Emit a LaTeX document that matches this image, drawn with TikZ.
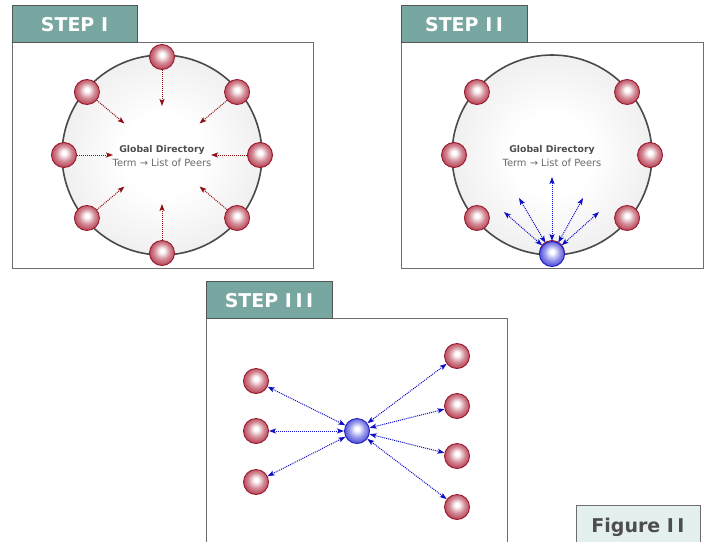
\documentclass[tikz,border=0pt]{standalone}
\usepackage{fontspec}
\setmainfont{DejaVu Sans}
\usetikzlibrary{arrows.meta,calc}

\definecolor{tabfill}{HTML}{78A6A1}
\definecolor{tabline}{HTML}{555555}
\definecolor{frameline}{HTML}{6E6E6E}
\definecolor{ringline}{HTML}{4A4A4A}
\definecolor{dirgray}{HTML}{D6D6D6}
\definecolor{peerrim}{HTML}{961A2C}
\definecolor{peermid}{HTML}{D28894}
\definecolor{peerout}{HTML}{B02A40}
\definecolor{hubrim}{HTML}{2222B8}
\definecolor{hubmid}{HTML}{9494EC}
\definecolor{hubout}{HTML}{3434D0}
\definecolor{pullred}{HTML}{8E0E14}
\definecolor{linkblue}{HTML}{0E0EC8}
\definecolor{titlegray}{HTML}{4D4D4D}
\definecolor{subgray}{HTML}{6A6A6A}
\definecolor{figfill}{HTML}{E3F0EF}

\pgfdeclareradialshading{peerball}{\pgfpoint{0bp}{5bp}}{%
  color(0bp)=(white); color(4bp)=(white); color(16bp)=(peermid);
  color(30bp)=(peerout); color(42bp)=(peerrim)}
\pgfdeclareradialshading{hubball}{\pgfpoint{0bp}{5bp}}{%
  color(0bp)=(white); color(4bp)=(white); color(16bp)=(hubmid);
  color(30bp)=(hubout); color(42bp)=(hubrim)}
\pgfdeclareradialshading{dirshade}{\pgfpoint{0bp}{0bp}}{%
  color(0bp)=(white); color(10bp)=(white); color(50bp)=(dirgray)}

\tikzset{
  tabbox/.style={draw=tabline, fill=tabfill, line width=0.9pt},
  framebox/.style={draw=frameline, line width=0.9pt},
  tabtext/.style={text=white, font=\fontsize{19}{22}\bfseries\selectfont, inner sep=0pt},
  directory/.style={circle, minimum size=200pt, inner sep=0pt, shading=dirshade,
    draw=ringline, line width=1.6pt},
  peer/.style={circle, minimum size=25pt, inner sep=0pt, shading=peerball,
    draw=peerrim, line width=0.9pt},
  hub/.style={circle, minimum size=25pt, inner sep=0pt, shading=hubball,
    draw=hubrim, line width=0.9pt},
  pull/.style={draw=pullred, line width=1pt, dash pattern=on 1pt off 1pt,
    -{Stealth[length=7pt,width=5pt,inset=1.5pt]}},
  link/.style={draw=linkblue, line width=1pt, dash pattern=on 1pt off 1pt,
    {Stealth[length=7pt,width=5pt,inset=1.5pt]}-{Stealth[length=7pt,width=5pt,inset=1.5pt]}},
  dirtitle/.style={text=titlegray, font=\fontsize{9.3}{11}\bfseries\selectfont, inner sep=0pt},
  dirsub/.style={text=subgray, font=\fontsize{9.9}{11}\selectfont, inner sep=0pt},
}

\newcommand{\gapI}{\kern3.5pt}

\begin{document}
\begin{tikzpicture}[x=1pt, y=-1pt]
\useasboundingbox (0,0) rectangle (706,541);
\clip (0,0) rectangle (706,541);
\fill[white] (0,0) rectangle (706,541);

% ---------- Step I: every peer publishes to the directory ----------
\draw[framebox] (12,42) rectangle (313,268);
\draw[tabbox] (12,5) rectangle (137,42);
\node[tabtext, anchor=base] (t1) at (74.5,31) {STEP I};

\node[directory] (c1) at (162,155) {};
\node[dirtitle, anchor=base] (g1) at (162,152.5) {Global Directory};
\node[dirsub, anchor=base] (s1) at (162,166) {Term → List of Peers};

\foreach \a/\n in {0/a,40/b,90/c,140/d,180/e,220/f,270/g,320/h}{
  \node[peer] (p1\n) at ($(c1)+(\a:98)$) {};
  \coordinate (e1\n) at ($(c1)+(\a:49)$);
  \draw[pull] (p1\n) -- (e1\n);
}

% ---------- Step II: a querying peer consults the directory ----------
\draw[framebox] (401,42) rectangle (703,268);
\draw[tabbox] (401,5) rectangle (527,42);
\node[tabtext, anchor=base] (t2) at (464,31) {STEP I\gapI I};

\node[directory] (c2) at (552,155) {};
\node[dirtitle, anchor=base] (g2) at (552,152.5) {Global Directory};
\node[dirsub, anchor=base] (s2) at (552,166) {Term → List of Peers};

\foreach \a/\n in {0/a,40/b,90/c,140/d,180/e,220/f,320/h}{
  \node[peer] (p2\n) at ($(c2)+(\a:98)$) {};
}
\node[hub] (q2) at (552,254) {};
\coordinate (r1) at (552,177);
\coordinate (r2) at (519,198);
\coordinate (r3) at (583,198);
\coordinate (r4) at (504,212);
\coordinate (r5) at (599,212);
\foreach \k in {1,...,5}{
  \draw[link] (q2) -- (r\k);
}

% ---------- Step III: the peer contacts the listed peers directly ----------
\draw[framebox] (206,560) -- (206,318) -- (507,318) -- (507,560);
\draw[tabbox] (206,281) rectangle (332,318);
\node[tabtext, anchor=base] (t3) at (269,307) {STEP I\gapI I\gapI I};

\node[hub] (q3) at (357,431) {};
\node[peer] (l1) at (256,381) {};
\node[peer] (l2) at (256,431) {};
\node[peer] (l3) at (256,482) {};
\node[peer] (m1) at (457,356) {};
\node[peer] (m2) at (457,406) {};
\node[peer] (m3) at (457,456) {};
\node[peer] (m4) at (457,507) {};
\foreach \t in {l1,l2,l3,m1,m2,m3,m4}{
  \draw[link] (q3) -- (\t);
}

% ---------- Caption ----------
\draw[framebox, fill=figfill] (576,560) -- (576,505) -- (700,505) -- (700,560);
\node[text=titlegray, font=\fontsize{19}{22}\bfseries\selectfont, inner sep=0pt, anchor=base]
  (fig) at (638,532) {Figure I\gapI I};
\end{tikzpicture}
\end{document}
